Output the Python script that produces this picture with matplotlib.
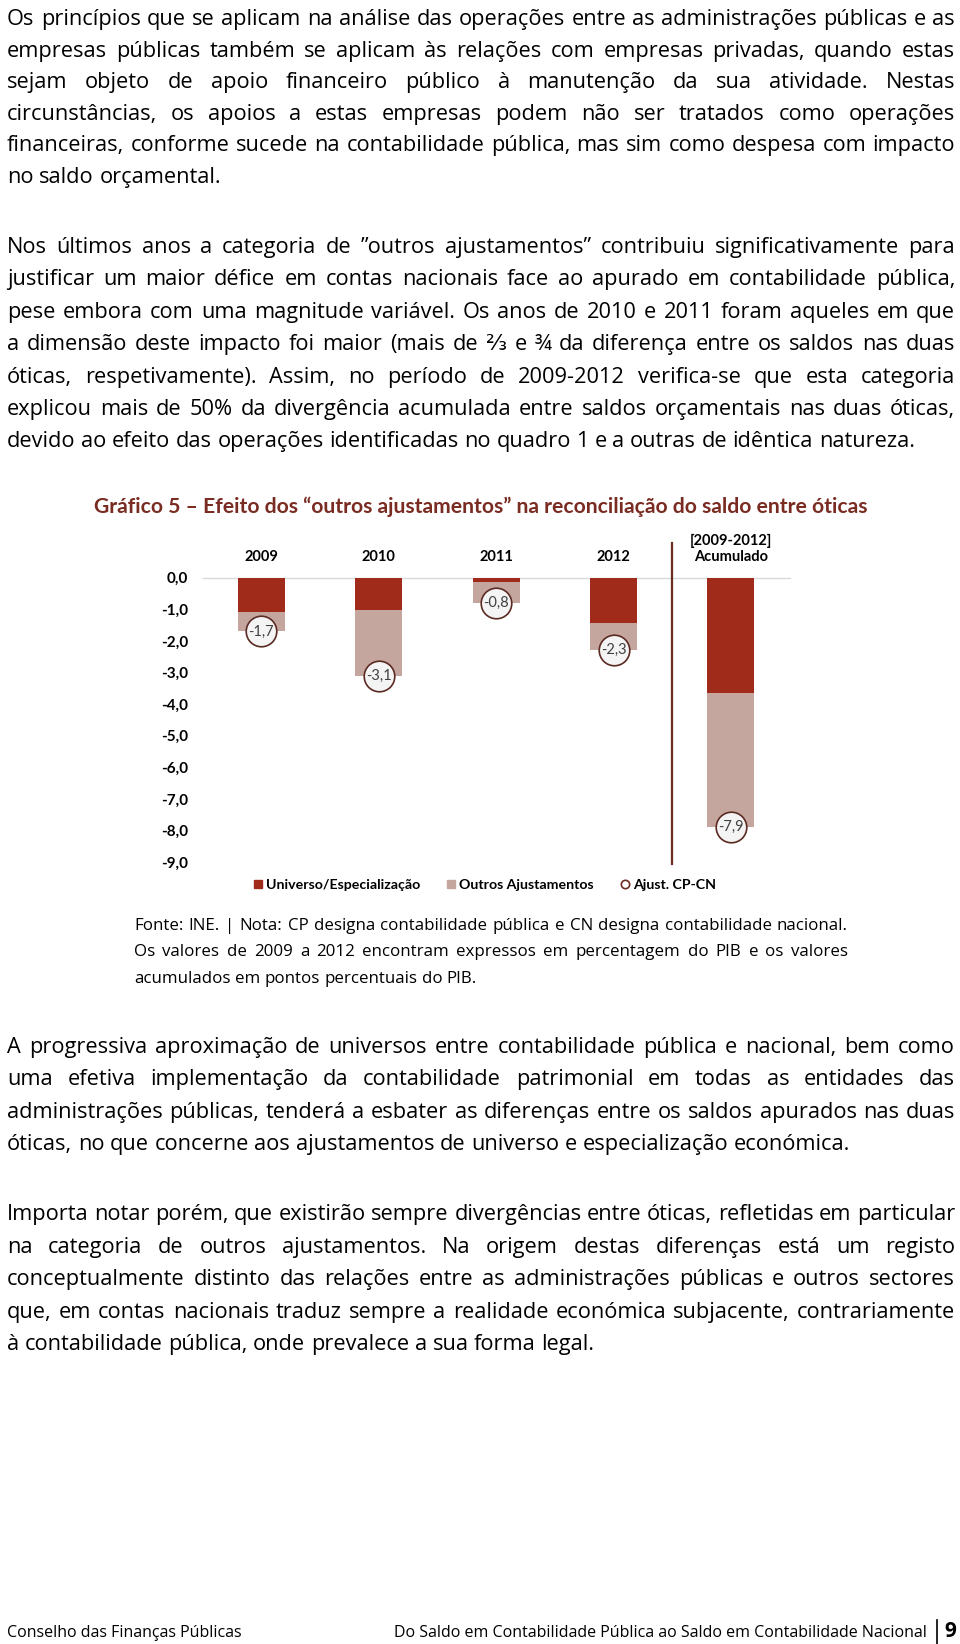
import matplotlib
matplotlib.use("Agg")
import matplotlib.pyplot as plt
from matplotlib.patches import Patch
from matplotlib.lines import Line2D

W, H = 960, 1644

# chart data: % of GDP for the years, p.p. of GDP for the cumulative bar
categories = ["2009", "2010", "2011", "2012", "[2009-2012]\nAcumulado"]
universo = [-1.07, -1.03, -0.15, -1.42, -3.65]
outros = [-0.63, -2.07, -0.65, -0.88, -4.25]
ajust_total = [-1.7, -3.1, -0.8, -2.3, -7.9]
yticks = [0, -1, -2, -3, -4, -5, -6, -7, -8, -9]
legend_labels = ["Universo/Especialização", "Outros Ajustamentos", "Ajust. CP-CN"]

title = "Gráfico 5 – Efeito dos “outros ajustamentos” na reconciliação do saldo entre óticas"

para1 = [
    "Os princípios que se aplicam na análise das operações entre as administrações públicas e as",
    "empresas públicas também se aplicam às relações com empresas privadas, quando estas",
    "sejam objeto de apoio financeiro público à manutenção da sua atividade. Nestas",
    "circunstâncias, os apoios a estas empresas podem não ser tratados como operações",
    "financeiras, conforme sucede na contabilidade pública, mas sim como despesa com impacto",
    "no saldo orçamental.",
]
para2 = [
    "Nos últimos anos a categoria de ”outros ajustamentos” contribuiu significativamente para",
    "justificar um maior défice em contas nacionais face ao apurado em contabilidade pública,",
    "pese embora com uma magnitude variável. Os anos de 2010 e 2011 foram aqueles em que",
    "a dimensão deste impacto foi maior (mais de ⅔ e ¾ da diferença entre os saldos nas duas",
    "óticas, respetivamente). Assim, no período de 2009-2012 verifica-se que esta categoria",
    "explicou mais de 50% da divergência acumulada entre saldos orçamentais nas duas óticas,",
    "devido ao efeito das operações identificadas no quadro 1 e a outras de idêntica natureza.",
]
note = [
    "Fonte: INE. | Nota: CP designa contabilidade pública e CN designa contabilidade nacional.",
    "Os valores de 2009 a 2012 encontram expressos em percentagem do PIB e os valores",
    "acumulados em pontos percentuais do PIB.",
]
para3 = [
    "A progressiva aproximação de universos entre contabilidade pública e nacional, bem como",
    "uma efetiva implementação da contabilidade patrimonial em todas as entidades das",
    "administrações públicas, tenderá a esbater as diferenças entre os saldos apurados nas duas",
    "óticas, no que concerne aos ajustamentos de universo e especialização económica.",
]
para4 = [
    "Importa notar porém, que existirão sempre divergências entre óticas, refletidas em particular",
    "na categoria de outros ajustamentos. Na origem destas diferenças está um registo",
    "conceptualmente distinto das relações entre as administrações públicas e outros sectores",
    "que, em contas nacionais traduz sempre a realidade económica subjacente, contrariamente",
    "à contabilidade pública, onde prevalece a sua forma legal.",
]

RED = "#A02B1B"
ROSE = "#C4A69E"
BROWN = "#6B2C24"
BODY = ["Open Sans", "DejaVu Sans"]
CHART = ["Lato", "DejaVu Sans"]

fig = plt.figure(figsize=(W / 100, H / 100), dpi=100)
renderer = fig.canvas.get_renderer()


def put(x, y, s, **kw):
    return fig.text(x / W, 1 - y / H, s, **kw)


def width(s, **kw):
    t = put(0, 0, s, **kw)
    w = t.get_window_extent(renderer).width
    t.remove()
    return w


def measure(words, size, family):
    ws = [width(w, fontsize=size, family=family) for w in words]
    space = width("a a", fontsize=size, family=family) - width("aa", fontsize=size, family=family)
    return ws, space


def paragraph(lines, x0, x1, y0, step, size, family=BODY, min_gap=0.3):
    avail = x1 - x0
    for i, line in enumerate(lines):
        words = line.split()
        fs = size
        ws, space = measure(words, fs, family)
        last = i == len(lines) - 1
        tight = sum(ws) + (len(words) - 1) * space * (1.0 if last else min_gap)
        if tight > avail:
            fs = size * avail / tight
            ws, space = measure(words, fs, family)
        gap = space if last else (avail - sum(ws)) / (len(words) - 1)
        x = x0
        for w, wd in zip(words, ws):
            put(x, y0 + i * step, w, ha="left", va="baseline", fontsize=fs,
                family=family, color="#000000")
            x += wd + gap


# body text
paragraph(para1, 7, 955, 25, 31.6, 15.7, min_gap=0.25)
paragraph(para2, 7, 955, 253, 32.4, 15.7, min_gap=0.25)
paragraph(para3, 7, 955, 1053, 32.4, 15.7, min_gap=0.25)
paragraph(para4, 7, 955, 1220, 32.6, 15.7, min_gap=0.25)
paragraph(note, 134, 848, 930, 26.3, 12.2, min_gap=0.6)

# chart title
ts = 14 * 779 / width(title, fontsize=14, weight="bold", family=CHART)
put(481, 507, title, ha="center", va="center", fontsize=ts, weight="bold",
    family=CHART, color="#7A2C22")

# chart
ax = fig.add_axes([202.7 / W, 1 - 862.1 / H, (789.6 - 202.7) / W, (862.1 - 577.7) / H])
x = list(range(len(categories)))
ax.bar(x, universo, 0.4, color=RED, zorder=2)
ax.bar(x, outros, 0.4, bottom=universo, color=ROSE, zorder=2)
ax.plot(x, ajust_total, "o", ms=22, mfc="#F4F4F4", mec="#5B2A22", mew=1.2,
        ls="none", zorder=3, clip_on=False)
for xi, v in zip(x, ajust_total):
    ax.text(xi, v, f"{v:.1f}".replace(".", ","), ha="center", va="center",
            fontsize=10.5, family=CHART, color="#404040", zorder=4)

ax.axhline(0, color="#D9D9D9", lw=1, zorder=1, clip_on=False)
ax.plot([3.5, 3.5], [1.1, -9.05], color=BROWN, lw=1.6, clip_on=False)
for i, lab in enumerate(categories):
    for k, part in enumerate(reversed(lab.split("\n"))):
        ax.text(i, 0.66 + k * 0.5, part, ha="center", va="center", fontsize=10.5,
                weight="bold", family=CHART)

ax.set_xlim(-0.5, 4.5)
ax.set_ylim(-9, 0)
ax.set_xticks([])
ax.set_yticks(yticks, [f"{t:.1f}".replace(".", ",") for t in yticks])
ax.tick_params(axis="y", length=0, pad=10.6)
for lab in ax.get_yticklabels():
    lab.set_fontweight("bold")
    lab.set_fontsize(11)
    lab.set_family(CHART)
for s in ax.spines.values():
    s.set_visible(False)

handles = [
    Patch(color=RED),
    Patch(color=ROSE),
    Line2D([], [], marker="o", ls="none", mfc="white", mec=BROWN, ms=6, mew=1.2),
]
fig.legend(handles, legend_labels, loc="center", bbox_to_anchor=(485 / W, 1 - 885 / H),
           ncol=3, frameon=False, prop=dict(family=CHART, weight="bold", size=10.2),
           handlelength=0.55, handleheight=0.55, handletextpad=0.3, columnspacing=1.9)

# footer
put(7, 1637, "Conselho das Finanças Públicas", ha="left", va="baseline",
    fontsize=11.5, family=BODY)
put(927, 1637, "Do Saldo em Contabilidade Pública ao Saldo em Contabilidade Nacional",
    ha="right", va="baseline", fontsize=11.5, family=BODY)
fig.add_artist(Line2D([937 / W, 937 / W], [1 - 1620 / H, 1 - 1644 / H], color="black", lw=1.2))
put(950, 1637, "9", ha="center", va="baseline", fontsize=15, weight="bold", family=BODY)

fig.savefig("out.png", dpi=100)
